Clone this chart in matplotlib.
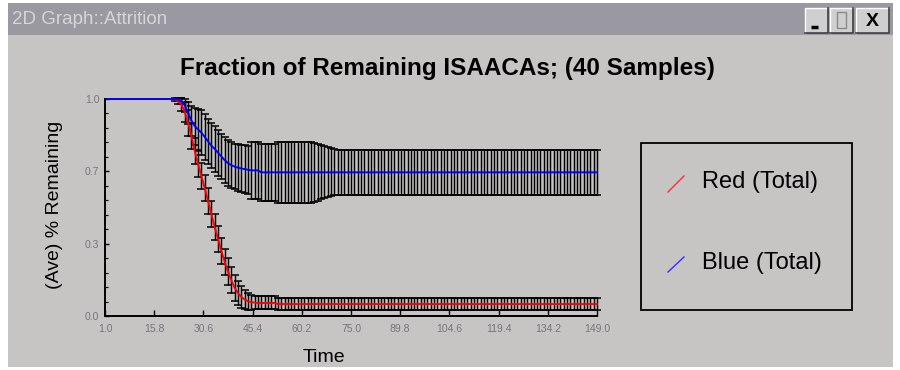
import numpy as np
import matplotlib
matplotlib.use('Agg')
import matplotlib.pyplot as plt
from matplotlib.patches import Rectangle
from matplotlib.ticker import MultipleLocator

plt.rcParams['font.family'] = ['Liberation Sans', 'DejaVu Sans']

# sample times and the two attrition curves (mean and spread over 40 samples)
t = np.arange(1, 150)

red_mean = ([1.0] * 21 +
            [0.998, 0.99, 0.975, 0.94, 0.89, 0.83, 0.76, 0.70, 0.645, 0.59, 0.53, 0.47, 0.41,
             0.355, 0.30, 0.25, 0.205, 0.165, 0.13, 0.105, 0.088, 0.076, 0.068, 0.064, 0.062] +
            [0.06] * 6 + [0.055] * 97)
red_std = ([0.0] * 21 + [0.005, 0.015, 0.03, 0.045] + [0.06] * 15 +
           [0.055, 0.05, 0.045, 0.04, 0.035] + [0.03] * 7 + [0.027] * 97)

blue_mean = ([1.0] * 22 +
             [0.998, 0.99, 0.97, 0.935, 0.90, 0.875, 0.86, 0.845, 0.825, 0.805, 0.785, 0.77,
              0.752, 0.735, 0.718, 0.705, 0.695, 0.688, 0.684, 0.68, 0.677, 0.674] +
             [0.671] * 3 + [0.662] * 102)
blue_std = ([0.0] * 22 + [0.005, 0.015, 0.03, 0.05, 0.07, 0.085, 0.095] + [0.105] * 11 +
            [0.11] * 4 + [0.13] * 8 + [0.14] * 11 +
            [0.135, 0.13, 0.125, 0.12, 0.115, 0.11, 0.106] + [0.103] * 79)

x_ticks = [1.0, 15.8, 30.6, 45.4, 60.2, 75.0, 89.8, 104.6, 119.4, 134.2, 149.0]
y_ticks = [0.0, 1 / 3, 2 / 3, 1.0]
y_tick_labels = ['0.0', '0.3', '0.7', '1.0']
series_names = ['Red (Total)', 'Blue (Total)']

W, H = 900, 370
fig = plt.figure(figsize=(W / 100, H / 100), dpi=100)
fig.patch.set_facecolor('white')

# window chrome drawn in pixel coordinates
bg = fig.add_axes([0, 0, 1, 1], zorder=0)
bg.set_xlim(0, W)
bg.set_ylim(H, 0)
bg.axis('off')
bg.add_patch(Rectangle((8, 3), 885, 364, facecolor='#c7c5c4', edgecolor='none'))
bg.add_patch(Rectangle((8, 3), 885, 32, facecolor='#9a98a1', edgecolor='none'))
bg.text(12, 19, '2D Graph::Attrition', color='#d6d6d6', fontsize=13.5,
        va='center', ha='left')

for bx, bw, glyph in [(805, 23, '_'), (830, 23, 'box'), (856, 33, 'X')]:
    bg.add_patch(Rectangle((bx, 8), bw, 25, facecolor='#cfcfcf', edgecolor='none'))
    bg.plot([bx, bx, bx + bw], [33, 8, 8], color='white', lw=1)
    bg.plot([bx, bx + bw, bx + bw], [33, 33, 8], color='#404040', lw=1.2)
    if glyph == '_':
        bg.plot([bx + 6, bx + 13], [27, 27], color='black', lw=2.5, solid_capstyle='butt')
    elif glyph == 'box':
        bg.add_patch(Rectangle((bx + 7, 12), 9, 16, facecolor='none', edgecolor='#8a8a8a', lw=1))
    else:
        bg.text(bx + bw / 2, 21, 'X', fontsize=14, fontweight='bold', ha='center', va='center')

fig.text(447 / W, 1 - 68 / H, 'Fraction of Remaining ISAACAs; (40 Samples)',
         fontsize=17.5, fontweight='bold', ha='center', va='center')

# main plot area
ax = fig.add_axes([105 / W, 1 - 316 / H, 492 / W, 217 / H], zorder=2)
ax.patch.set_alpha(0)
ax.set_xlim(1, 149)
ax.set_ylim(0, 1)

red_mean = np.array(red_mean)
red_std = np.array(red_std)
blue_mean = np.array(blue_mean)
blue_std = np.array(blue_std)

for mean, std in [(blue_mean, blue_std), (red_mean, red_std)]:
    m = std > 0
    ax.errorbar(t[m], mean[m], yerr=std[m], fmt='none', ecolor='black',
                elinewidth=1.05, capsize=3, capthick=1.1, clip_on=False)
ax.plot(t, red_mean, color='#ff0000', lw=1.4, clip_on=False)
ax.plot(t, blue_mean, color='#0000ff', lw=1.4, clip_on=False)

for side in ['top', 'right']:
    ax.spines[side].set_visible(False)
for side in ['left', 'bottom']:
    ax.spines[side].set_linewidth(1.4)

ax.set_xticks(x_ticks)
ax.set_xticklabels(['%.1f' % v for v in x_ticks])
ax.set_yticks(y_ticks)
ax.set_yticklabels(y_tick_labels)
ax.yaxis.set_minor_locator(MultipleLocator(1 / 15))
ax.tick_params(axis='x', direction='in', length=4, width=1, pad=6,
               labelsize=7.5, labelcolor='#75757c')
ax.tick_params(axis='y', direction='in', length=3, width=1, pad=4,
               labelsize=7.5, labelcolor='#75757c')
ax.tick_params(axis='y', which='minor', direction='in', length=2, width=0.8)

fig.text(55 / W, 1 - 205 / H, '(Ave) % Remaining', fontsize=14, rotation=90,
         ha='center', va='center')
fig.text(324 / W, 1 - 357 / H, 'Time', fontsize=14, ha='center', va='center')

# legend box
bg.add_patch(Rectangle((641, 143), 211, 167, facecolor='none', edgecolor='black', lw=1.3))
handles = [((668, 192), (684, 176), '#ff3030', 182), ((668, 272), (684, 257), '#3030ff', 263)]
for (p0, p1, col, ty), name in zip(handles, series_names):
    bg.plot([p0[0], p1[0]], [p0[1], p1[1]], color=col, lw=1)
    bg.text(702, ty, name, fontsize=17, ha='left', va='center')

fig.savefig('out.png', dpi=100)
